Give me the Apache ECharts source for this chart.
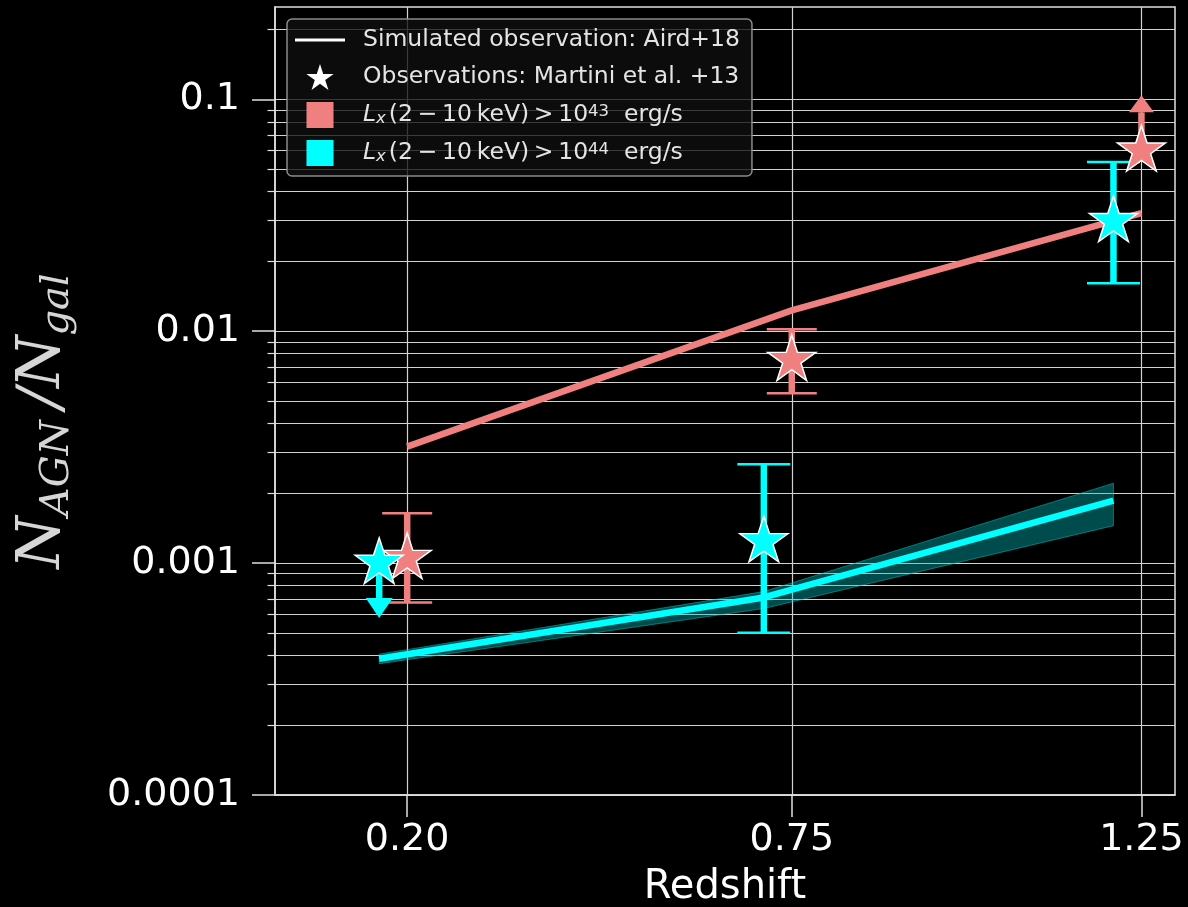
<!DOCTYPE html>
<html>
<head>
<meta charset="utf-8">
<script src="https://cdn.jsdelivr.net/npm/echarts@6/dist/echarts.min.js"></script>
<style>
html, body { margin: 0; padding: 0; background: #000; }
#chart { width: 1188px; height: 907px; }
</style>
</head>
<body>
<div id="chart"></div>
<script>
// ---- Redshift bins (the 10^44 points are shifted slightly left for readability)
const redshiftLx43 = [0.20, 0.75, 1.25];
const redshiftLx44 = [0.16, 0.71, 1.21];

// ---- Simulated observation, Aird+18 (AGN fraction)
const airdLx43 = [0.00318, 0.0123, 0.0323];
const airdLx44 = [0.000387, 0.000711, 0.00186];
const airdLx44Lower = [0.000368, 0.000637, 0.00145];
const airdLx44Upper = [0.000405, 0.000754, 0.00221];

// ---- Observations, Martini et al. 2013
const martiniLx43 = [0.00105, 0.0075, 0.060];
const martiniLx43Low = [0.000676, 0.0054, null];
const martiniLx43High = [0.00164, 0.0102, null];
const martiniLx44 = [0.0010, 0.00124, 0.0298];
const martiniLx44Low = [null, 0.000501, 0.0161];
const martiniLx44High = [null, 0.00267, 0.0536];

// Limits: [index, value at the arrow tip]
const martiniLx43LowerLimit = [2, 0.104];   // arrow pointing up
const martiniLx44UpperLimit = [0, 0.00058]; // arrow pointing down

// ---- Axis ticks
const xTicks = [0.20, 0.75, 1.25];
const xTickLabels = ['0.20', '0.75', '1.25'];
const yTicks = [0.0001, 0.001, 0.01, 0.1];
const yTickLabels = ['0.0001', '0.001', '0.01', '0.1'];
const yMinorTicks = [
  0.0002, 0.0003, 0.0004, 0.0005, 0.0006, 0.0007, 0.0008, 0.0009,
  0.002, 0.003, 0.004, 0.005, 0.006, 0.007, 0.008, 0.009,
  0.02, 0.03, 0.04, 0.05, 0.06, 0.07, 0.08, 0.09,
  0.2
];

const RED = '#f08080';
const CYAN = '#00ffff';
const GRID_COLOR = '#d2d2d2';
const FRAME_COLOR = '#e0e0e0';
const TEXT_GREY = '#e4e4e4';

// five-pointed star outline (same proportions as a matplotlib '*' marker)
function starPath() {
  const pts = [];
  const inner = 0.381966;
  for (let i = 0; i < 10; i++) {
    const r = i % 2 === 0 ? 1 : inner;
    const a = -Math.PI / 2 + i * Math.PI / 5;
    pts.push((r * Math.cos(a) * 100).toFixed(2) + ',' + (r * Math.sin(a) * 100).toFixed(2));
  }
  return 'path://M' + pts.join('L') + 'Z';
}
const STAR = starPath();
const STAR_W = 48, STAR_H = 45.6;
// shift so that the star's centre, not its bounding box centre, sits on the value
const STAR_OFFSET = [0, -(STAR_H / 1.809) * 0.0955];

function pairs(xs, ys) {
  return xs.map((x, i) => [x, ys[i]]);
}
function errorRows(xs, lo, hi) {
  const rows = [];
  xs.forEach((x, i) => { if (lo[i] != null && hi[i] != null) rows.push([x, lo[i], hi[i]]); });
  return rows;
}

function errorBarRenderer(color, capWidth) {
  return function (params, api) {
    const x = api.value(0);
    const pLo = api.coord([x, api.value(1)]);
    const pHi = api.coord([x, api.value(2)]);
    const hw = capWidth / 2;
    return {
      type: 'group',
      children: [
        { type: 'line', shape: { x1: pLo[0], y1: pLo[1], x2: pHi[0], y2: pHi[1] },
          style: { stroke: color, lineWidth: 6.5 } },
        { type: 'line', shape: { x1: pLo[0] - hw, y1: pLo[1], x2: pLo[0] + hw, y2: pLo[1] },
          style: { stroke: color, lineWidth: 2.5 } },
        { type: 'line', shape: { x1: pHi[0] - hw, y1: pHi[1], x2: pHi[0] + hw, y2: pHi[1] },
          style: { stroke: color, lineWidth: 2.5 } }
      ]
    };
  };
}

function limitArrowRenderer(color, headLen, headWidth) {
  return function (params, api) {
    const x = api.value(0);
    const pFrom = api.coord([x, api.value(1)]);
    const pTip = api.coord([x, api.value(2)]);
    const dir = pTip[1] > pFrom[1] ? 1 : -1;
    const baseY = pTip[1] - dir * headLen;
    return {
      type: 'group',
      children: [
        { type: 'line', shape: { x1: pFrom[0], y1: pFrom[1], x2: pFrom[0], y2: baseY },
          style: { stroke: color, lineWidth: 6.5 } },
        { type: 'polygon', shape: { points: [[pTip[0], pTip[1]], [pTip[0] - headWidth / 2, baseY], [pTip[0] + headWidth / 2, baseY]] },
          style: { fill: color } }
      ]
    };
  };
}

// shaded range around the 10^44 Aird+18 curve
const bandRows = redshiftLx44.map((x, i) => [x, airdLx44Lower[i], airdLx44Upper[i]]);
function bandRenderer(params, api) {
  if (params.dataIndex !== 0) return;
  const upper = bandRows.map(r => api.coord([r[0], r[2]]));
  const lower = bandRows.map(r => api.coord([r[0], r[1]])).reverse();
  return {
    type: 'polygon',
    shape: { points: upper.concat(lower) },
    style: { fill: 'rgba(0, 200, 200, 0.38)', stroke: 'rgba(0, 200, 200, 0.5)', lineWidth: 1 }
  };
}

function tickFormatter(ticks, labels) {
  return function (v) {
    for (let i = 0; i < ticks.length; i++) {
      if (Math.abs(ticks[i] - v) <= Math.abs(ticks[i]) * 1e-6) return labels[i];
    }
    return '';
  };
}

const legendText = {
  aird: 'Simulated observation: Aird+18',
  martini: 'Observations: Martini et al. +13',
  lx43: '{it|L}{sub|x}{n|(2\u2009\u2212\u200910\u2009keV)\u2009>\u200910}{sup|43}{n|  erg/s}',
  lx44: '{it|L}{sub|x}{n|(2\u2009\u2212\u200910\u2009keV)\u2009>\u200910}{sup|44}{n|  erg/s}'
};

const chart = echarts.init(document.getElementById('chart'), null, { renderer: 'canvas' });

chart.setOption({
  backgroundColor: '#000',
  animation: false,
  textStyle: { fontFamily: 'DejaVu Sans' },
  grid: {
    left: 275, right: 13, top: 7, bottom: 112,
    show: true, borderColor: FRAME_COLOR, borderWidth: 1.5,
    backgroundColor: 'transparent',
    outerBoundsMode: 'none'
  },
  legend: {
    orient: 'vertical',
    left: 287, top: 19,
    selectedMode: false,
    backgroundColor: 'rgba(16,16,16,0.78)',
    borderColor: '#8a8a8a', borderWidth: 1.5, borderRadius: 5,
    padding: [9, 12, 10, 8],
    itemGap: 12, itemWidth: 50, itemHeight: 26,
    z: 10,
    formatter: name => legendText[name],
    textStyle: {
      color: TEXT_GREY, fontSize: 23.5, fontFamily: 'DejaVu Sans',
      padding: [0, 0, 0, 13],
      rich: {
        it: { fontSize: 23.5, fontStyle: 'italic', color: TEXT_GREY, fontFamily: 'DejaVu Sans' },
        sub: { fontSize: 16.5, fontStyle: 'italic', color: TEXT_GREY, verticalAlign: 'bottom', lineHeight: 16, padding: [0, 3, 0, 0] },
        sup: { fontSize: 16.5, color: TEXT_GREY, verticalAlign: 'top', lineHeight: 14 },
        n: { fontSize: 23.5, color: TEXT_GREY, fontFamily: 'DejaVu Sans' }
      }
    },
    data: [
      { name: 'aird', icon: 'path://M0,0H50V2.8H0Z', itemStyle: { color: '#ffffff', opacity: 1 } },
      { name: 'martini', icon: STAR, itemStyle: { color: '#ffffff', opacity: 1 } },
      { name: 'lx43', icon: 'path://M0,0H26V25H0Z', itemStyle: { color: RED, opacity: 1 } },
      { name: 'lx44', icon: 'path://M0,0H26V25H0Z', itemStyle: { color: CYAN, opacity: 1 } }
    ]
  },
  xAxis: {
    type: 'value',
    min: 0.011, max: 1.298,
    axisLine: { show: true, lineStyle: { color: FRAME_COLOR, width: 1.5 } },
    axisTick: { show: true, customValues: xTicks, length: 22, lineStyle: { color: FRAME_COLOR, width: 1.5 } },
    axisLabel: { customValues: xTicks, formatter: tickFormatter(xTicks, xTickLabels),
      color: '#ffffff', fontSize: 38, margin: 26 },
    splitLine: { show: true, lineStyle: { color: GRID_COLOR, width: 1.2 } },
    name: 'Redshift', nameLocation: 'middle', nameGap: 73,
    nameTextStyle: { color: '#ffffff', fontSize: 40 }
  },
  yAxis: [
    {
      type: 'log', logBase: 10,
      min: 0.0001, max: 0.25,
      axisLine: { show: true, lineStyle: { color: FRAME_COLOR, width: 1.5 } },
      axisTick: { show: true, customValues: yTicks, length: 23, lineStyle: { color: FRAME_COLOR, width: 1.5 } },
      axisLabel: { customValues: yTicks, formatter: tickFormatter(yTicks, yTickLabels),
        color: '#ffffff', fontSize: 38, margin: 35 },
      splitLine: { show: true, lineStyle: { color: GRID_COLOR, width: 1.2 } },
      name: '{N|N}{sub|AGN}{N|\u2009/N}{sub|gal}',
      nameLocation: 'middle', nameRotate: 90, nameGap: 197,
      nameTextStyle: {
        color: '#d6d6d6',
        padding: [0, 40, 0, 0],
        rich: {
          N: { fontFamily: 'DejaVu Serif', fontStyle: 'italic', fontSize: 60, lineHeight: 70, color: '#d6d6d6' },
          sub: { fontFamily: 'DejaVu Serif', fontStyle: 'italic', fontSize: 40, lineHeight: 40, verticalAlign: 'bottom', color: '#d6d6d6' }
        }
      }
    },
    {
      // minor decade ticks and grid lines
      type: 'log', logBase: 10,
      min: 0.0001, max: 0.25,
      position: 'left',
      axisLine: { show: false },
      axisTick: { show: true, customValues: yMinorTicks, length: 7.5, lineStyle: { color: FRAME_COLOR, width: 1.2 } },
      axisLabel: { show: false },
      splitLine: { show: true, lineStyle: { color: GRID_COLOR, width: 1.2 } }
    }
  ],
  series: [
    // legend entries
    { name: 'aird', type: 'scatter', data: [], itemStyle: { color: '#ffffff', opacity: 1 } },
    { name: 'martini', type: 'scatter', data: [], itemStyle: { color: '#ffffff', opacity: 1 } },
    { name: 'lx43', type: 'scatter', data: [], itemStyle: { color: RED, opacity: 1 } },
    { name: 'lx44', type: 'scatter', data: [], itemStyle: { color: CYAN, opacity: 1 } },

    // Aird+18 uncertainty band (10^44)
    {
      type: 'custom', renderItem: bandRenderer, data: bandRows,
      encode: { x: 0, y: [1, 2] }, z: 1, silent: true
    },
    // Aird+18 curves
    {
      type: 'line', data: pairs(redshiftLx43, airdLx43), symbol: 'none',
      lineStyle: { color: RED, width: 6.5, cap: 'butt' }, z: 2, silent: true
    },
    {
      type: 'line', data: pairs(redshiftLx44, airdLx44), symbol: 'none',
      lineStyle: { color: CYAN, width: 6.5, cap: 'butt' }, z: 2, silent: true
    },
    // Martini et al. error bars
    {
      type: 'custom', renderItem: errorBarRenderer(RED, 50),
      data: errorRows(redshiftLx43, martiniLx43Low, martiniLx43High),
      encode: { x: 0, y: [1, 2] }, z: 3, silent: true
    },
    {
      type: 'custom', renderItem: errorBarRenderer(CYAN, 53),
      data: errorRows(redshiftLx44, martiniLx44Low, martiniLx44High),
      encode: { x: 0, y: [1, 2] }, z: 3, silent: true
    },
    // limit arrows
    {
      type: 'custom', renderItem: limitArrowRenderer(RED, 17, 25),
      data: [[redshiftLx43[martiniLx43LowerLimit[0]], martiniLx43[martiniLx43LowerLimit[0]], martiniLx43LowerLimit[1]]],
      encode: { x: 0, y: [1, 2] }, z: 3, silent: true
    },
    {
      type: 'custom', renderItem: limitArrowRenderer(CYAN, 20, 27),
      data: [[redshiftLx44[martiniLx44UpperLimit[0]], martiniLx44[martiniLx44UpperLimit[0]], martiniLx44UpperLimit[1]]],
      encode: { x: 0, y: [1, 2] }, z: 3, silent: true
    },
    // Martini et al. points
    {
      type: 'scatter', data: pairs(redshiftLx43, martiniLx43),
      symbol: STAR, symbolSize: [STAR_W, STAR_H], symbolOffset: STAR_OFFSET,
      itemStyle: { color: RED, borderColor: '#ffffff', borderWidth: 1.5, opacity: 1 }, z: 4, silent: true
    },
    {
      type: 'scatter', data: pairs(redshiftLx44, martiniLx44),
      symbol: STAR, symbolSize: [STAR_W, STAR_H], symbolOffset: STAR_OFFSET,
      itemStyle: { color: CYAN, borderColor: '#ffffff', borderWidth: 1.5, opacity: 1 }, z: 5, silent: true
    }
  ]
});
</script>
</body>
</html>
